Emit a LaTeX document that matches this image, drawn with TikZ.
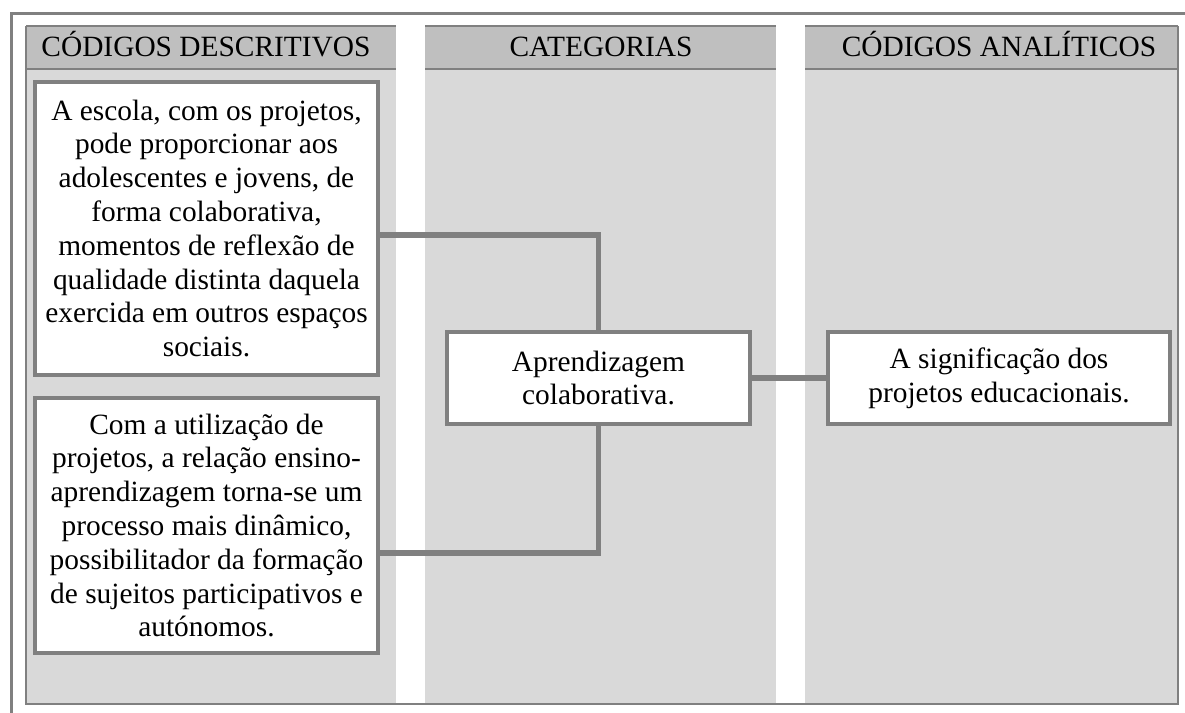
\documentclass[tikz,border=0pt]{standalone}
\usepackage{fontspec}
\setmainfont{Liberation Serif}
\definecolor{headgray}{HTML}{BFBFBF}
\definecolor{bodygray}{HTML}{D9D9D9}
\definecolor{linegray}{HTML}{808080}

\begin{document}
\begin{tikzpicture}[x=0.5pt,y=-0.5pt]
\tikzstyle{every node}+=[inner sep=0pt, font=\fontsize{14.7}{16.9}\selectfont]
\tikzstyle{codebox}=[draw=linegray, line width=1.8pt, fill=white, align=center]
\tikzstyle{link}=[draw=linegray, line width=2.6pt]
\useasboundingbox (0,0) rectangle (1185,713);
% outer frame
\draw [linegray, line width=1.5pt] (11,713) -- (11,13) -- (1185,13);
% column bodies
\fill [bodygray] (26,69) rectangle (396,704);
\fill [bodygray] (425,69) rectangle (776,704);
\fill [bodygray] (805,69) rectangle (1178,704);
% column heads
\fill [headgray] (26,26) rectangle (396,69);
\fill [headgray] (425,26) rectangle (776,69);
\fill [headgray] (805,26) rectangle (1178,69);
\draw [linegray, line width=1pt] (26,26) -- (396,26) (26,69) -- (396,69);
\draw [linegray, line width=1pt] (425,26) -- (776,26) (425,69) -- (776,69);
\draw [linegray, line width=1pt] (805,26) -- (1178,26) (805,69) -- (1178,69);
\draw [linegray, line width=1pt] (26,26) -- (26,704) -- (1178,704) -- (1178,26);
\node [anchor=base] (hdesc) at (206,56) {CÓDIGOS DESCRITIVOS};
\node [anchor=base] (hcat) at (601,56) {CATEGORIAS};
\node [anchor=base] (hana) at (999,56) {CÓDIGOS ANALÍTICOS};
% boxes
\node [codebox, minimum width=171.5pt, minimum height=146.5pt] (desc1) at (206.5,228.5)
  {A escola, com os projetos,\\pode proporcionar aos\\adolescentes e jovens, de\\forma colaborativa,\\momentos de reflexão de\\qualidade distinta daquela\\exercida em outros espaços\\sociais.};
\node [codebox, minimum width=171.5pt, minimum height=127.5pt] (desc2) at (206.5,525.5)
  {Com a utilização de\\projetos, a relação ensino-\\aprendizagem torna-se um\\processo mais dinâmico,\\possibilitador da formação\\de sujeitos participativos e\\autónomos.};
\node [codebox, minimum width=151.5pt, minimum height=46pt] (cat) at (598.5,378)
  {Aprendizagem\\colaborativa.};
\node [codebox, minimum width=171pt, minimum height=46pt] (ana) at (999,378)
  {A significação dos\\projetos educacionais.};
% links
\draw [link] ([yshift=-3.25pt]desc1.east) -| (cat.north);
\draw [link] ([yshift=-13.75pt]desc2.east) -| (cat.south);
\draw [link] (cat.east) -- (ana.west);
\end{tikzpicture}
\end{document}
